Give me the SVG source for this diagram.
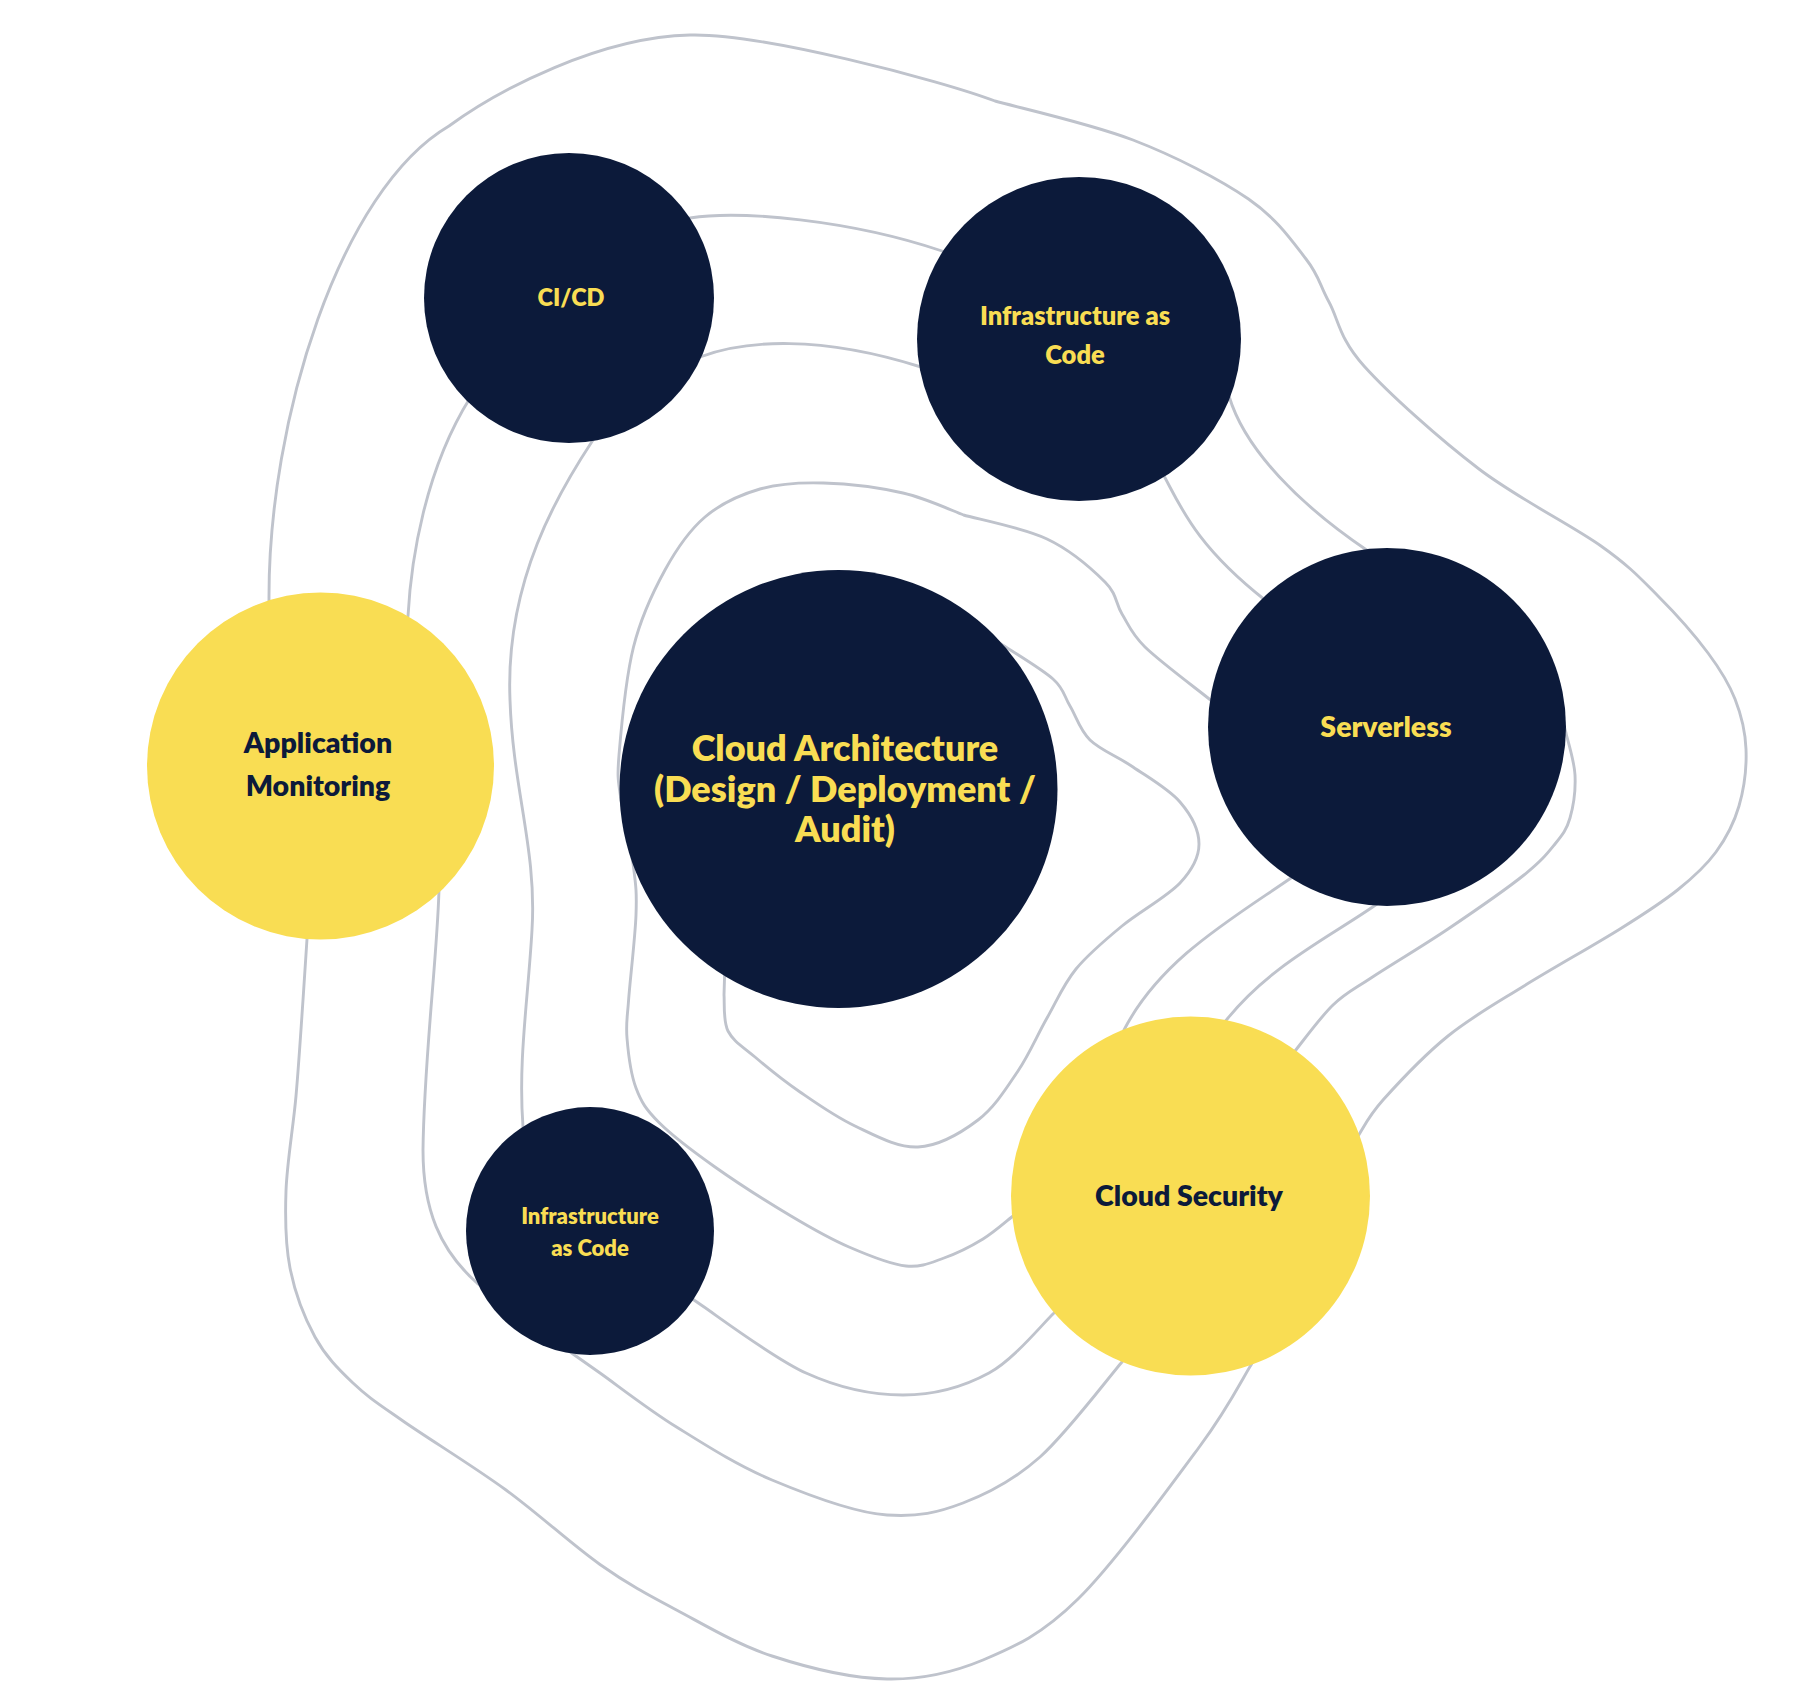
<svg xmlns="http://www.w3.org/2000/svg" width="1806" height="1690" viewBox="0 0 1806 1690">
<style>
.bg{fill:#ffffff}
.link{fill:none;stroke:#bfc3cc;stroke-width:2.9;stroke-linecap:round;stroke-linejoin:round}
.navy{fill:#0c1a3a}
.yellow{fill:#f9dd53}
.t{font-family:Lato,"Noto Sans","Liberation Sans",sans-serif;font-weight:800;text-anchor:middle}
.ty{fill:#f9dd53}
.tn{fill:#0c1a3a}
</style>
<rect class="bg" x="0" y="0" width="1806" height="1690"/>
<g id="connectors">
<path id="loop1" class="link" d="M 992,638 L 1001,644 C 1009.7,649.8 1041.5,668.7 1053,679 C 1064.5,689.3 1063.8,695.8 1070,706 C 1076.2,716.2 1079.5,729.8 1090,740 C 1100.5,750.2 1118,756.7 1133,767 C 1148,777.3 1169,789.2 1180,802 C 1191,814.8 1199,830.5 1199,844 C 1199,857.5 1192.8,869.3 1180,883 C 1167.2,896.7 1139.3,911.7 1122,926 C 1104.7,940.3 1088.5,953.7 1076,969 C 1063.5,984.3 1056.7,1001 1047,1018 C 1037.3,1035 1029.5,1054 1018,1071 C 1006.5,1088 994.7,1107.3 978,1120 C 961.3,1132.7 938.5,1146 918,1147 C 897.5,1148 874.7,1135.2 855,1126 C 835.3,1116.8 816.7,1103.5 800,1092 C 783.3,1080.5 767,1067.2 755,1057 C 743,1046.8 733.2,1041.3 728,1031 C 722.8,1020.7 724.7,1001 724,995 L 725,962"/>
<path id="loop2a" class="link" d="M 1021,1210 L 1013,1216 C 1008,1219.8 994.5,1232 983,1239 C 971.5,1246 956.8,1253.5 944,1258 C 931.2,1262.5 921.8,1267.5 906,1266 C 890.2,1264.5 868.2,1255.3 849,1247 C 829.8,1238.7 813.3,1229.3 791,1216 C 768.7,1202.7 737,1182.6 715,1167 C 693,1151.4 672.2,1135.7 659,1122.5 C 645.8,1109.3 641.3,1102.1 636,1088 C 630.7,1073.9 628.2,1052.7 627,1038 C 625.8,1023.3 627.1,1020.5 628.6,1000 C 630.1,979.5 635.2,937.2 636,915 C 636.8,892.8 636,886.2 633.5,867 C 631,847.8 623.4,818.7 621,800 C 618.6,781.3 616.9,780.5 619,755 C 621.1,729.5 625.8,677.8 633.5,647 C 641.2,616.2 653.1,591.7 665,570 C 676.9,548.3 689.2,530.5 705,517 C 720.8,503.5 740.25,494.7 760,489 C 779.75,483.3 799.7,482.3 823.5,483 C 847.3,483.7 879.7,487.7 903,493 C 926.3,498.3 953.4,511.3 963.5,515 C 977.4,519 1023.4,527.8 1047,539 C 1070.6,550.2 1092.5,569.5 1105,582 C 1117.5,594.5 1115.3,603.2 1122,614 C 1128.7,624.8 1130.7,633 1145,647 C 1159.3,661 1197.5,689.5 1208,698 L 1218,706"/>
<path id="loop2b" class="link" d="M 1299,872 L 1291,878 C 1230,920 1160,960 1124,1030 L 1120,1040"/>
<path id="loop3a" class="link" d="M 690,361 L 700,357 C 745,340 820,335 921,367 L 930,371"/>
<path id="loop3b" class="link" d="M 1158,465 L 1163,474 C 1180,505 1195,545 1265,600 L 1272,605"/>
<path id="loop3c" class="link" d="M 1385,899 L 1377,904 C 1330,937 1268,966 1224,1023 L 1218,1032"/>
<path id="loop3d" class="link" d="M 1062,1305 L 1054,1313 C 1043.2,1323 1014.2,1359.3 989,1373 C 963.8,1386.7 933.5,1395 903,1395 C 872.5,1395 840.8,1388.8 806,1373 C 771.2,1357.2 712.7,1312.2 694,1300 L 686,1294"/>
<path id="loop3e" class="link" d="M 598,432 L 593,440 C 560,490 505,580 510,700 C 513,790 537,850 532,930 C 528,1000 518,1060 523,1127 L 525,1138"/>
<path id="loop4a" class="link" d="M 404,624 L 408,616 C 411,560 425,470 470,398 L 476,390"/>
<path id="loop4b" class="link" d="M 682,222 L 690,218 C 740,210 850,220 942,251 L 950,255"/>
<path id="loop4c" class="link" d="M 1226,388 L 1229,396 C 1245,450 1300,505 1368,551 L 1375,557"/>
<path id="loop4d" class="link" d="M 1563,722 L 1566,733 C 1567.5,740 1574.3,760.8 1575,775 C 1575.7,789.2 1573.3,806.5 1570,818 C 1566.7,829.5 1562.7,834.5 1555,844 C 1547.3,853.5 1541.8,860.8 1524,875 C 1506.2,889.2 1473.5,911.8 1448,929 C 1422.5,946.2 1390.2,965.3 1371,978 C 1351.8,990.7 1345.7,992.8 1333,1005 C 1320.3,1017.2 1301.3,1043.3 1295,1051 L 1289,1061"/>
<path id="loop4e" class="link" d="M 1128,1354 L 1122,1362 C 1108.3,1377.8 1066.5,1433.5 1040,1457 C 1013.5,1480.5 988.5,1493.3 963,1503 C 937.5,1512.7 918.8,1517 887,1515 C 855.2,1513 807.1,1494.7 772,1480 C 736.9,1465.3 705.2,1444.8 676.5,1427 C 647.8,1409.2 617.25,1385.2 600,1373 C 582.75,1360.8 577.5,1357.2 573,1354 L 565,1348"/>
<path id="loop4f" class="link" d="M 442,880 L 439,890 C 437,960 424,1060 423,1150 C 423,1210 440,1250 477,1283 L 485,1289"/>
<path id="loop5a" class="link" d="M 269,612 L 269,600 C 268,420 340,190 449,126 C 499,89.5 600,37 690,35 C 760,33 940,80 995,101 C 1018,107.5 1090.75,123.7 1133,140 C 1175.25,156.3 1219.7,179.2 1248.5,199 C 1277.3,218.8 1292.6,241.8 1306,259 C 1319.4,276.2 1319.3,284.2 1329,302 C 1338.7,319.8 1339,338.2 1364,366 C 1389,393.8 1439.5,439 1479,469 C 1518.5,499 1571.2,524.8 1601,546 C 1630.8,567.2 1640.2,578.2 1658,596 C 1675.8,613.8 1695.2,635.8 1708,653 C 1720.8,670.2 1728.7,683 1735,699 C 1741.3,715 1745.3,731.2 1746,749 C 1746.7,766.8 1744,788.8 1739,806 C 1734,823.2 1726.25,838 1716,852 C 1705.75,866 1693.5,877.2 1677.5,890 C 1661.5,902.8 1645.6,913 1620,929 C 1594.4,945 1552.7,968.2 1524,986 C 1495.3,1003.8 1471.5,1017 1448,1036 C 1424.5,1055 1398,1083.3 1383,1100 C 1368,1116.7 1362.2,1130 1358,1136 L 1352,1146"/>
<path id="loop5b" class="link" d="M 1256,1355 L 1251,1365 C 1242.5,1378.5 1228.8,1407 1200,1446 C 1171.2,1485 1114.2,1563.3 1078,1599 C 1041.8,1634.7 1014.8,1646.7 983,1660 C 951.2,1673.3 922.2,1679.7 887,1679 C 851.8,1678.3 807.1,1667.5 772,1656 C 736.9,1644.5 705.2,1625.25 676.5,1610 C 647.8,1594.75 628.4,1584.5 600,1564.5 C 571.6,1544.5 538.8,1513.9 506,1490 C 473.2,1466.1 428.5,1438.8 403,1421 C 377.5,1403.2 367.7,1397 353,1383 C 338.3,1369 325.5,1356.2 315,1337 C 304.5,1317.8 294.8,1292.3 290,1268 C 285.2,1243.7 285,1219.7 286,1191 C 287,1162.3 293.2,1127.8 296,1096 C 298.8,1064.2 301.2,1026.2 303,1000 C 304.8,973.8 306.3,949.2 307,939 L 308,925"/>
</g>
<g id="node-central">
<circle class="navy" cx="838.5" cy="789" r="219"/>
<text class="t ty" font-size="36"><tspan x="845" y="761">Cloud Architecture</tspan><tspan x="845" y="802">(Design / Deployment /</tspan><tspan x="845" y="842">Audit)</tspan></text>
</g>
<g id="node-cicd">
<circle class="navy" cx="569" cy="298" r="145"/>
<text class="t ty" font-size="23.5" x="571" y="306">CI/CD</text>
</g>
<g id="node-iac-top">
<circle class="navy" cx="1079" cy="339" r="162"/>
<text class="t ty" font-size="25.5"><tspan x="1075" y="325">Infrastructure as</tspan><tspan x="1075" y="364">Code</tspan></text>
</g>
<g id="node-serverless">
<circle class="navy" cx="1387" cy="727" r="179"/>
<text class="t ty" font-size="28.5" x="1386" y="737">Serverless</text>
</g>
<g id="node-appmon">
<circle class="yellow" cx="320.5" cy="766" r="173.5"/>
<text class="t tn" font-size="28.5"><tspan x="318" y="753">Application</tspan><tspan x="318" y="796">Monitoring</tspan></text>
</g>
<g id="node-cloudsec">
<circle class="yellow" cx="1190.5" cy="1196" r="179.5"/>
<text class="t tn" font-size="28.5" x="1189" y="1206">Cloud Security</text>
</g>
<g id="node-iac-small">
<circle class="navy" cx="590" cy="1231" r="124"/>
<text class="t ty" font-size="22"><tspan x="590" y="1224">Infrastructure</tspan><tspan x="590" y="1256">as Code</tspan></text>
</g>
</svg>
